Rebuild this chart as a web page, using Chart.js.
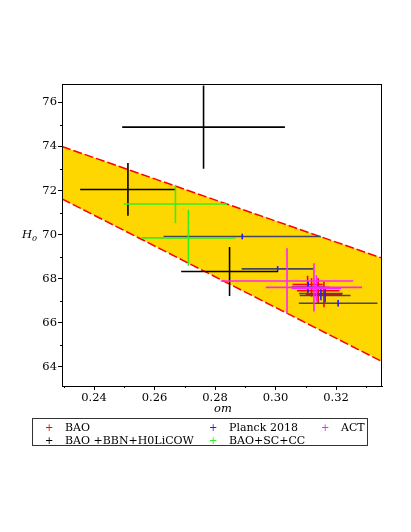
<!DOCTYPE html>
<html lang="en">
<head>
<meta charset="UTF-8">
<title>H0 vs om</title>
<script src="https://cdn.jsdelivr.net/npm/chart.js"></script>
<style>
  body { margin: 0; background: #fff; font-family: "DejaVu Serif", serif; }
  #wrap { position: relative; width: 411px; height: 532px; }
  .lbl { position: absolute; font-style: italic; font-size: 11.5px; color: #000; }
  #legend { position: absolute; left: 32px; top: 418px; width: 336px; height: 28px;
            border: 1px solid #333; box-sizing: border-box; }
  .item { position: absolute; font-size: 11px; line-height: 13px; white-space: nowrap; }
  .mark { position: absolute; font-size: 10px; line-height: 13px; font-family: "DejaVu Sans", sans-serif; }
</style>
</head>
<body>
<div id="wrap">
  <canvas id="chart"></canvas>
  <div class="lbl" style="left:214px; top:401px;">om</div>
  <div class="lbl" style="left:22px; top:227px;">H<sub style="font-size:8px;">0</sub></div>
  <div id="legend"></div>
</div>
<script>
// axis ticks
const xTicks = [0.24, 0.26, 0.28, 0.30, 0.32];
const xMinorTicks = [0.23, 0.25, 0.27, 0.29, 0.31, 0.33];
const yTicks = [64, 66, 68, 70, 72, 74, 76];
const yMinorTicks = [65, 67, 69, 71, 73, 75];

// shaded band (edges)
const bandOm = [0.2294, 0.3352];
const bandUpper = [74.00, 68.93];
const bandLower = [71.62, 64.23];

// BAO
const baoOm = [0.3106, 0.3119, 0.3141, 0.3160];
const baoOmErr = [0.0050, 0.0060, 0.0070, 0.0060];
const baoH0 = [67.73, 67.60, 67.45, 67.28];
const baoH0Err = [0.40, 0.42, 0.57, 0.58];

// BAO +BBN+H0LiCOW
const lensOm = [0.2762, 0.2512, 0.2848];
const lensOmErr = [0.0269, 0.0158, 0.0160];
const lensH0 = [74.88, 72.05, 68.32];
const lensH0Err = [1.89, 1.20, 1.11];

// Planck 2018
const planckOm = [0.2890, 0.3007, 0.3207, 0.3108, 0.3150, 0.3164];
const planckOmErr = [0.0260, 0.0119, 0.0130, 0.0055, 0.0072, 0.0084];
const planckH0 = [69.91, 68.44, 66.88, 67.62, 67.32, 67.23];
const planckH0Err = [0.13, 0.13, 0.15, 0.25, 0.30, 0.30];

// BAO+SC+CC
const sccOm = [0.2669, 0.2712];
const sccOmErr = [0.0171, 0.0155];
const sccH0 = [71.39, 69.85];
const sccH0Err = [0.87, 1.27];

// ACT
const actOm = [0.3038, 0.3127, 0.3135];
const actOmErr = [0.0219, 0.0159, 0.0082];
const actH0 = [67.89, 67.60, 67.55];
const actH0Err = [1.49, 1.10, 0.60];

function crosses(om, omErr, h, hErr) {
    return om.map(function (x, i) {
        return { x: x, y: h[i], xMin: x - omErr[i], xMax: x + omErr[i], yMin: h[i] - hErr[i], yMax: h[i] + hErr[i] };
    });
}

function edge(vals) {
    return bandOm.map(function (x, i) { return { x: x, y: vals[i] }; });
}

const series = [
    { label: "BAO", color: "#ff0000", data: crosses(baoOm, baoOmErr, baoH0, baoH0Err) },
    { label: "Planck 2018", color: "#2020ff", hColor: "#45455e", data: crosses(planckOm, planckOmErr, planckH0, planckH0Err) },
    { label: "BAO +BBN+H0LiCOW", color: "#000000", data: crosses(lensOm, lensOmErr, lensH0, lensH0Err) },
    { label: "BAO+SC+CC", color: "#33ee22", data: crosses(sccOm, sccOmErr, sccH0, sccH0Err) },
    { label: "ACT", color: "#ff22ff", data: crosses(actOm, actOmErr, actH0, actH0Err) }
];

// draws the error crosses through the scales
const errorBars = {
    id: "errorBars",
    afterDatasetsDraw: function (chart) {
        let ctx = chart.ctx, xs = chart.scales.x, ys = chart.scales.y, a = chart.chartArea;
        ctx.save();
        ctx.beginPath();
        ctx.rect(a.left, a.top, a.right - a.left, a.bottom - a.top);
        ctx.clip();
        ctx.lineWidth = 1.6;
        chart.data.datasets.forEach(function (ds) {
            if (!ds.errorBars) return;
            ds.data.forEach(function (p) {
                let px = xs.getPixelForValue(p.x), py = ys.getPixelForValue(p.y);
                ctx.strokeStyle = ds.hColor || ds.borderColor;
                ctx.beginPath();
                ctx.moveTo(xs.getPixelForValue(p.xMin), py);
                ctx.lineTo(xs.getPixelForValue(p.xMax), py);
                ctx.stroke();
                ctx.strokeStyle = ds.borderColor;
                ctx.beginPath();
                ctx.moveTo(px, ys.getPixelForValue(p.yMin));
                ctx.lineTo(px, ys.getPixelForValue(p.yMax));
                ctx.stroke();
            });
        });
        ctx.restore();
    }
};

// frame and minor ticks
const frame = {
    id: "frame",
    afterDraw: function (chart) {
        let ctx = chart.ctx, a = chart.chartArea, xs = chart.scales.x, ys = chart.scales.y;
        ctx.save();
        ctx.strokeStyle = "#000";
        ctx.lineWidth = 1;
        ctx.strokeRect(a.left + 0.5, a.top + 0.5, a.right - a.left - 1, a.bottom - a.top);
        ctx.beginPath();
        xMinorTicks.forEach(function (v) {
            let px = Math.round(xs.getPixelForValue(v)) + 0.5;
            ctx.moveTo(px, a.bottom);
            ctx.lineTo(px, a.bottom + 2);
        });
        yMinorTicks.forEach(function (v) {
            let py = Math.round(ys.getPixelForValue(v)) + 0.5;
            ctx.moveTo(a.left, py);
            ctx.lineTo(a.left - 2, py);
        });
        ctx.stroke();
        ctx.restore();
    }
};

let datasets = [
    { type: "line", data: edge(bandUpper), borderColor: "#ff0000", borderWidth: 1.5, borderDash: [9, 3],
      pointRadius: 0, fill: false },
    { type: "line", data: edge(bandLower), borderColor: "#ff0000", borderWidth: 1.5, borderDash: [9, 3],
      pointRadius: 0, fill: "-1", backgroundColor: "#ffd700" }
];
series.forEach(function (s) {
    datasets.push({ label: s.label, data: s.data, borderColor: s.color, hColor: s.hColor,
                    pointRadius: 0, errorBars: true, showLine: false });
});

const tickFont = { family: "DejaVu Serif", size: 11.5 };

new Chart(document.getElementById("chart"), {
    type: "scatter",
    data: { datasets: datasets },
    options: {
        responsive: true,
        maintainAspectRatio: false,
        animation: false,
        events: [],
        layout: { padding: { left: 0, right: 29, top: 84, bottom: 122 } },
        scales: {
            x: {
                type: "linear", min: 0.2294, max: 0.3352,
                afterFit: function (s) { s.height = 24; },
                afterBuildTicks: function (s) { s.ticks = xTicks.map(function (v) { return { value: v }; }); },
                ticks: { font: tickFont, color: "#000", padding: 1, maxRotation: 0,
                         callback: function (v) { return v.toFixed(2); } },
                grid: { drawOnChartArea: false, tickLength: 4, color: "#000" },
                border: { color: "#000" }
            },
            y: {
                type: "linear", min: 63.12, max: 76.84,
                afterFit: function (s) { s.width = 62; },
                afterBuildTicks: function (s) { s.ticks = yTicks.map(function (v) { return { value: v }; }); },
                ticks: { font: tickFont, color: "#000", padding: 1 },
                grid: { drawOnChartArea: false, tickLength: 4, color: "#000" },
                border: { color: "#000" }
            }
        },
        plugins: {
            legend: { display: false },
            tooltip: { enabled: false },
            filler: { drawTime: "beforeDatasetsDraw" }
        }
    },
    plugins: [errorBars, frame]
});

// legend, laid out in columns like the original
const legendOrder = ["BAO", "BAO +BBN+H0LiCOW", "Planck 2018", "BAO+SC+CC", "ACT"];
const colX = [15, 179, 291];
const rowY = [2, 15];
let box = document.getElementById("legend");
legendOrder.forEach(function (name, i) {
    let s = series.find(function (d) { return d.label === name; });
    let col = Math.floor(i / 2), row = i % 2;
    let m = document.createElement("span");
    m.className = "mark";
    m.textContent = "+";
    m.style.color = s.color;
    m.style.left = (colX[col] - 3) + "px";
    m.style.top = rowY[row] + "px";
    box.appendChild(m);
    let t = document.createElement("span");
    t.className = "item";
    t.textContent = name;
    t.style.left = (colX[col] + 17) + "px";
    t.style.top = rowY[row] + "px";
    box.appendChild(t);
});
</script>
</body>
</html>
